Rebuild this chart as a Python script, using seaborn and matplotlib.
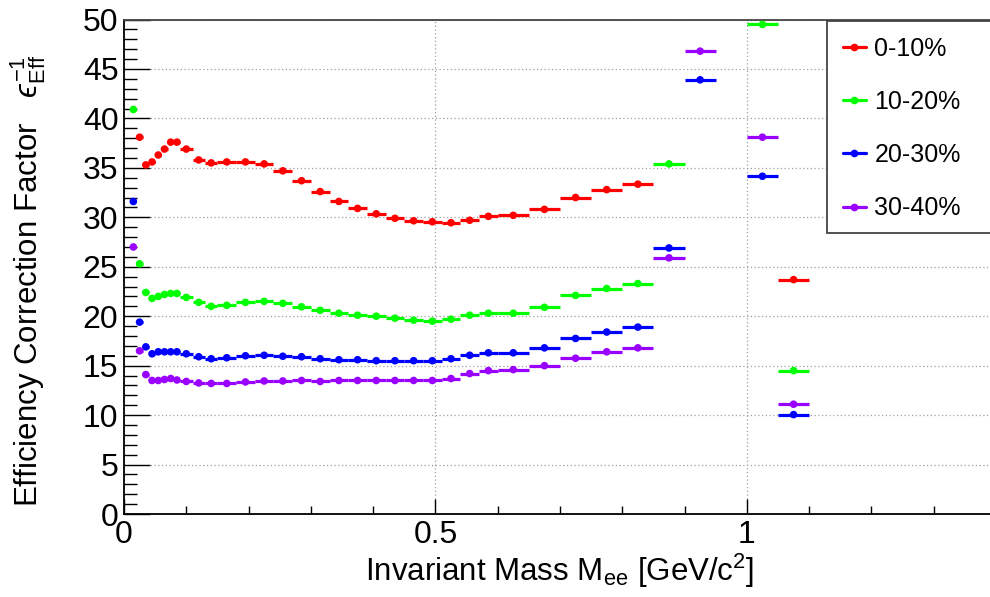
import numpy as np
import pandas as pd
import matplotlib
matplotlib.use("Agg")
import matplotlib.pyplot as plt
import seaborn as sns
from matplotlib.ticker import MultipleLocator
from matplotlib.lines import Line2D
from matplotlib.patches import Rectangle

# ---------------- data ----------------
bin_lo = [0.01, 0.02, 0.03, 0.04, 0.05, 0.06, 0.07, 0.08, 0.09, 0.11, 0.13,
          0.15, 0.18, 0.21, 0.24, 0.27, 0.30, 0.33, 0.36, 0.39, 0.42, 0.45,
          0.48, 0.51, 0.54, 0.57, 0.60, 0.65, 0.70, 0.75, 0.80, 0.85, 0.90,
          1.00, 1.05]
bin_hi = [0.02, 0.03, 0.04, 0.05, 0.06, 0.07, 0.08, 0.09, 0.11, 0.13, 0.15,
          0.18, 0.21, 0.24, 0.27, 0.30, 0.33, 0.36, 0.39, 0.42, 0.45, 0.48,
          0.51, 0.54, 0.57, 0.60, 0.65, 0.70, 0.75, 0.80, 0.85, 0.90, 0.95,
          1.05, 1.10]

nan = np.nan
cent_0_10 = [nan, 38.1, 35.3, 35.6, 36.3, 36.9, 37.6, 37.6, 36.9, 35.8, 35.5,
             35.6, 35.6, 35.4, 34.7, 33.7, 32.6, 31.6, 30.9, 30.35, 29.9, 29.65,
             29.55, 29.45, 29.7, 30.1, 30.2, 30.8, 32.0, 32.8, 33.35, nan, nan,
             nan, 23.7]
cent_10_20 = [40.9, 25.3, 22.4, 21.8, 22.0, 22.2, 22.3, 22.3, 21.9, 21.4, 21.0,
              21.1, 21.4, 21.5, 21.3, 20.95, 20.6, 20.3, 20.1, 20.0, 19.8, 19.6,
              19.5, 19.7, 20.1, 20.3, 20.3, 20.9, 22.1, 22.8, 23.3, 35.4, nan,
              49.5, 14.5]
cent_20_30 = [31.6, 19.4, 16.9, 16.2, 16.4, 16.4, 16.4, 16.4, 16.2, 15.9, 15.7,
              15.8, 16.0, 16.05, 15.95, 15.9, 15.7, 15.6, 15.6, 15.5, 15.5, 15.5,
              15.5, 15.7, 16.05, 16.3, 16.3, 16.8, 17.75, 18.4, 18.9, 26.9, 43.9,
              34.15, 10.05]
cent_30_40 = [27.0, 16.5, 14.1, 13.5, 13.5, 13.6, 13.7, 13.55, 13.4, 13.25, 13.2,
              13.2, 13.35, 13.45, 13.45, 13.5, 13.4, 13.5, 13.5, 13.5, 13.5, 13.5,
              13.5, 13.7, 14.2, 14.5, 14.6, 15.0, 15.75, 16.4, 16.8, 25.9, 46.8,
              38.1, 11.1]

labels = ["0-10%", "10-20%", "20-30%", "30-40%"]
series = [cent_0_10, cent_10_20, cent_20_30, cent_30_40]
colors = ["#ff0000", "#00ff00", "#0000ff", "#9900ff"]

x_ticks = [0, 0.5, 1]
x_tick_labels = ["0", "0.5", "1"]
y_ticks = [0, 5, 10, 15, 20, 25, 30, 35, 40, 45, 50]

# ---------------- table ----------------
lo = np.array(bin_lo)
hi = np.array(bin_hi)
rows = []
for lab, vals in zip(labels, series):
    for a, b, v in zip(lo, hi, vals):
        rows.append({"centrality": lab, "mass": (a + b) / 2, "halfwidth": (b - a) / 2,
                     "factor": v})
df = pd.DataFrame(rows).dropna()

# ---------------- style ----------------
sns.set_style("ticks")
plt.rcParams["font.family"] = ["Liberation Sans", "DejaVu Sans"]
plt.rcParams["mathtext.fontset"] = "custom"
plt.rcParams["mathtext.rm"] = "Liberation Sans"
plt.rcParams["mathtext.it"] = "Liberation Sans:italic"
plt.rcParams["mathtext.bf"] = "Liberation Sans:bold"
plt.rcParams["mathtext.fallback"] = "stixsans"
for k in ["text.color", "axes.labelcolor", "xtick.color", "ytick.color"]:
    plt.rcParams[k] = "black"

fig = plt.figure(figsize=(9.9, 5.97), dpi=100)
ax = fig.add_axes([124 / 990, 83 / 597, 872 / 990, 494.5 / 597])

palette = dict(zip(labels, colors))
for lab in labels:
    sub = df[df["centrality"] == lab]
    ax.errorbar(sub["mass"], sub["factor"], xerr=sub["halfwidth"], fmt="none",
                ecolor=palette[lab], elinewidth=2.3, capsize=0, zorder=3)
sns.scatterplot(data=df, x="mass", y="factor", hue="centrality", palette=palette,
                s=30, linewidth=0, legend=False, ax=ax, zorder=4)

ax.set_xlim(0, 1.4)
ax.set_ylim(0, 50)
ax.set_xticks(x_ticks)
ax.set_xticklabels(x_tick_labels)
ax.set_yticks(y_ticks)
ax.xaxis.set_minor_locator(MultipleLocator(0.1))
ax.yaxis.set_minor_locator(MultipleLocator(1))
ax.tick_params(axis="x", which="major", direction="in", length=11, width=1,
               labelsize=23, pad=4, top=False, colors="black")
ax.tick_params(axis="x", which="minor", direction="in", length=5.5, width=1, top=False)
ax.tick_params(axis="y", which="major", direction="in", length=19, width=1,
               labelsize=23, pad=4, right=False, colors="black")
ax.tick_params(axis="y", which="minor", direction="in", length=9.5, width=1, right=False)

ax.grid(which="major", linestyle=(0, (1, 2)), color="#a0a0a0", linewidth=0.9)
ax.set_axisbelow(True)
for s in ["left", "bottom"]:
    ax.spines[s].set_color("black")
    ax.spines[s].set_linewidth(1.3)
ax.spines["top"].set_color("#444444")
ax.spines["top"].set_linewidth(1.3)
ax.spines["right"].set_visible(False)

ax.set_xlabel("")
ax.set_ylabel("")
ax.text(0.5, -0.115, r"Invariant Mass M$_{\mathrm{ee}}$ [GeV/c$^{2}$]",
        transform=ax.transAxes, ha="center", va="center", fontsize=22.5,
        color="black")
ax.text(-0.110, 0.472,
        "Efficiency Correction Factor   $\u03f5^{-1}_{\\mathrm{Eff}}$",
        transform=ax.transAxes, ha="center", va="center", rotation=90,
        fontsize=22.5, color="black")

# legend box (extends past the right edge like the reference)
fig.add_artist(Rectangle((827 / 990, 1 - 233 / 597), 0.3, (233 - 21.5) / 597,
                         transform=fig.transFigure, facecolor="white",
                         edgecolor="#444444", linewidth=1.3, zorder=5))
handles = [Line2D([0], [0], color=c, lw=2.3, marker="o", markersize=4.5)
           for c in colors]
leg = fig.legend(handles, labels, loc="upper left",
                 bbox_to_anchor=(828 / 990, 1 - 21.5 / 597),
                 bbox_transform=fig.transFigure, frameon=False, fontsize=18,
                 handlelength=0.9, handletextpad=0.35, labelspacing=1.17,
                 borderpad=0.6, borderaxespad=0, labelcolor="black")
leg.set_zorder(6)

fig.savefig("out.png", dpi=100)
